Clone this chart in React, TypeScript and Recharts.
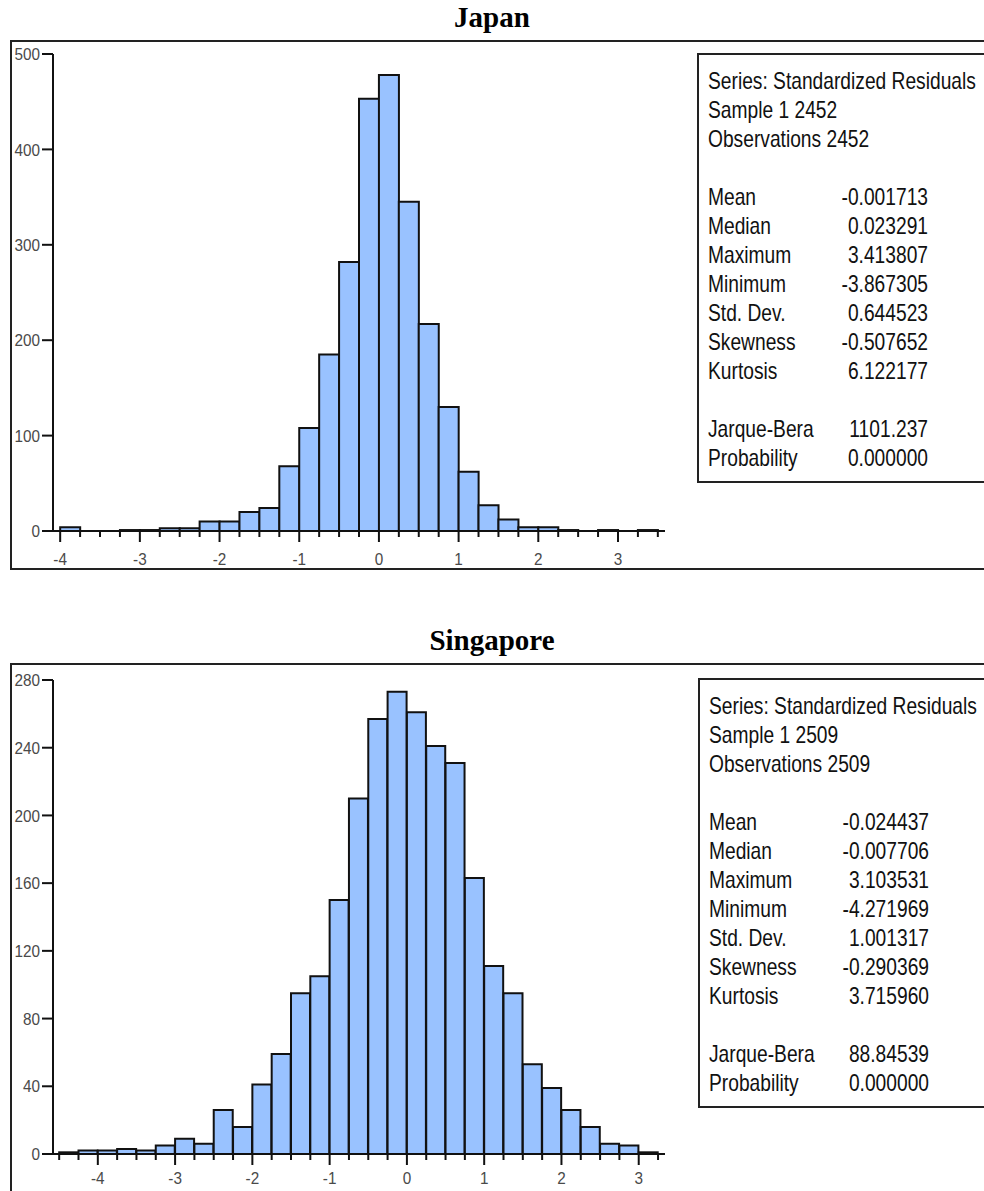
import { BarChart, Bar, XAxis, YAxis } from "recharts";

// bin lower edges (width 0.25) and counts
const binWidth = 0.25;

const japanBinStart = [
  -4.0, -3.75, -3.5, -3.25, -3.0, -2.75, -2.5, -2.25, -2.0, -1.75, -1.5, -1.25, -1.0, -0.75, -0.5,
  -0.25, 0, 0.25, 0.5, 0.75, 1.0, 1.25, 1.5, 1.75, 2.0, 2.25, 2.5, 2.75, 3.0, 3.25,
];
const japanCounts = [
  4, 0, 0, 1, 1, 3, 3, 10, 10, 20, 24, 68, 108, 185, 282, 453, 478, 345, 217, 130, 62, 27, 12, 4, 4,
  1, 0, 1, 0, 1,
];
const japanYTicks = [0, 100, 200, 300, 400, 500];

const singaporeBinStart = [
  -4.5, -4.25, -4.0, -3.75, -3.5, -3.25, -3.0, -2.75, -2.5, -2.25, -2.0, -1.75, -1.5, -1.25, -1.0,
  -0.75, -0.5, -0.25, 0, 0.25, 0.5, 0.75, 1.0, 1.25, 1.5, 1.75, 2.0, 2.25, 2.5, 2.75, 3.0,
];
const singaporeCounts = [
  1, 2, 2, 3, 2, 5, 9, 6, 26, 16, 41, 59, 95, 105, 150, 210, 257, 273, 261, 241, 231, 163, 111, 95,
  53, 39, 26, 16, 6, 5, 1,
];
const singaporeYTicks = [0, 40, 80, 120, 160, 200, 240, 280];

const statLabels = ["Mean", "Median", "Maximum", "Minimum", "Std. Dev.", "Skewness", "Kurtosis"];
const japanStats = ["-0.001713", "0.023291", "3.413807", "-3.867305", "0.644523", "-0.507652", "6.122177"];
const japanJB = ["1101.237", "0.000000"];
const singaporeStats = ["-0.024437", "-0.007706", "3.103531", "-4.271969", "1.001317", "-0.290369", "3.715960"];
const singaporeJB = ["88.84539", "0.000000"];

const BAR_FILL = "#99c2ff";
const INK = "#111";
const SANS = "'Liberation Sans', Arial, sans-serif";

function buildRows(starts: number[], counts: number[]) {
  return starts.map((s, i) => ({ x: s + binWidth / 2, count: counts[i] }));
}

function edgesOf(starts: number[]) {
  return [...starts, starts[starts.length - 1] + binWidth];
}

// narrow grey label, like the EViews screen font
function NarrowText({ x, y, anchor, children }: any) {
  return (
    <g transform={`translate(${x},${y}) scale(0.9,1)`}>
      <text textAnchor={anchor} dy="0.36em" fontSize={17} fill="#4a4a4a" fontFamily={SANS}>
        {children}
      </text>
    </g>
  );
}

function makeXTick(labelOffset: number) {
  return function XTick(props: any) {
    const { x, y, payload } = props;
    const v = payload.value;
    const major = Number.isInteger(v);
    return (
      <g>
        <line x1={x} x2={x} y1={y} y2={y + (major ? 11 : 6)} stroke={INK} strokeWidth={2} />
        {major && (
          <NarrowText x={x} y={y + labelOffset} anchor="middle">
            {v}
          </NarrowText>
        )}
      </g>
    );
  };
}

function YTick(props: any) {
  const { x, y, payload } = props;
  return (
    <NarrowText x={x} y={y} anchor="end">
      {payload.value}
    </NarrowText>
  );
}

function Histogram(props: {
  starts: number[];
  counts: number[];
  yTicks: number[];
  xDomain: [number, number];
  width: number;
  height: number;
  top: number;
  xAxisHeight: number;
  labelOffset: number;
}) {
  const { starts, counts, yTicks, xDomain, width, height, top, xAxisHeight, labelOffset } = props;
  const data = buildRows(starts, counts);
  const yMax = yTicks[yTicks.length - 1];
  const line = { stroke: INK, strokeWidth: 2 };
  const XTick = makeXTick(labelOffset);
  return (
    <BarChart
      width={width}
      height={height}
      data={data}
      margin={{ top, right: 0, left: 0, bottom: 0 }}
      barCategoryGap={0}
      barGap={0}
    >
      <XAxis
        dataKey="x"
        type="number"
        domain={xDomain}
        allowDataOverflow
        ticks={edgesOf(starts)}
        interval={0}
        tick={<XTick />}
        tickLine={false}
        tickSize={0}
        tickMargin={0}
        height={xAxisHeight}
        axisLine={line}
      />
      <XAxis
        xAxisId="top"
        orientation="top"
        type="number"
        domain={[0, 1]}
        height={0}
        tick={false}
        tickLine={false}
        axisLine={line}
      />
      <YAxis
        domain={[0, yMax]}
        ticks={yTicks}
        interval={0}
        width={43}
        tickSize={11}
        tickMargin={2}
        tickLine={line}
        axisLine={line}
        tick={<YTick />}
      />
      <YAxis
        yAxisId="right"
        orientation="right"
        type="number"
        domain={[0, 1]}
        width={0}
        tick={false}
        tickLine={false}
        axisLine={line}
      />
      <Bar dataKey="count" fill={BAR_FILL} stroke={INK} strokeWidth={2} isAnimationActive={false} />
    </BarChart>
  );
}

function StatsBox(props: {
  left: number;
  top: number;
  height: number;
  sample: string;
  stats: string[];
  jb: string[];
}) {
  const { left, top, height, sample, stats, jb } = props;
  const row = { height: 29, display: "flex", whiteSpace: "nowrap" as const };
  const lab = { width: 155 };
  const val = { width: 120, textAlign: "right" as const };
  return (
    <div
      style={{
        position: "absolute",
        left,
        top,
        width: 320,
        height,
        border: "2px solid #222",
        boxSizing: "border-box",
        overflow: "hidden",
        background: "#fff",
      }}
    >
      <div
        style={{
          position: "absolute",
          left: 9,
          top: 11,
          width: 380,
          transform: "scale(0.8, 1)",
          transformOrigin: "left top",
          fontFamily: SANS,
          fontSize: 24,
          lineHeight: "29px",
          color: "#111",
        }}
      >
        <div style={row}>Series: Standardized Residuals</div>
        <div style={row}>Sample 1 {sample}</div>
        <div style={row}>Observations {sample}</div>
        <div style={{ height: 29 }} />
        {statLabels.map((l, i) => (
          <div key={l} style={row}>
            <span style={lab}>{l}</span>
            <span style={val}>{stats[i]}</span>
          </div>
        ))}
        <div style={{ height: 29 }} />
        <div style={row}>
          <span style={lab}>Jarque-Bera</span>
          <span style={val}>{jb[0]}</span>
        </div>
        <div style={row}>
          <span style={lab}>Probability</span>
          <span style={val}>{jb[1]}</span>
        </div>
      </div>
    </div>
  );
}

const titleStyle = {
  position: "absolute" as const,
  left: 0,
  width: 984,
  textAlign: "center" as const,
  fontFamily: "'Liberation Serif', 'Times New Roman', serif",
  fontWeight: 700,
  fontSize: 29,
  lineHeight: "29px",
};

const frameStyle = {
  position: "absolute" as const,
  left: 10,
  width: 1000,
  border: "2px solid #222",
  boxSizing: "border-box" as const,
};

export default function App() {
  return (
    <div
      style={{
        position: "absolute",
        left: 0,
        top: 0,
        width: 984,
        height: 1191,
        overflow: "hidden",
        background: "#fff",
      }}
    >
      {/* Japan */}
      <div style={{ ...titleStyle, top: 3 }}>Japan</div>
      <div style={{ ...frameStyle, top: 40, height: 530 }} />
      <div style={{ position: "absolute", left: 10, top: 40 }}>
        <Histogram
          starts={japanBinStart}
          counts={japanCounts}
          yTicks={japanYTicks}
          xDomain={[-4.09, 3.59]}
          width={655}
          height={530}
          top={14}
          xAxisHeight={39}
          labelOffset={28}
        />
      </div>
      <StatsBox left={697} top={53} height={430} sample="2452" stats={japanStats} jb={japanJB} />

      {/* Singapore */}
      <div style={{ ...titleStyle, top: 626 }}>Singapore</div>
      <div style={{ ...frameStyle, top: 663, height: 600 }} />
      <div style={{ position: "absolute", left: 10, top: 663 }}>
        <Histogram
          starts={singaporeBinStart}
          counts={singaporeCounts}
          yTicks={singaporeYTicks}
          xDomain={[-4.58, 3.34]}
          width={655}
          height={528}
          top={17}
          xAxisHeight={37}
          labelOffset={24}
        />
      </div>
      <StatsBox left={698} top={678} height={430} sample="2509" stats={singaporeStats} jb={singaporeJB} />
    </div>
  );
}
